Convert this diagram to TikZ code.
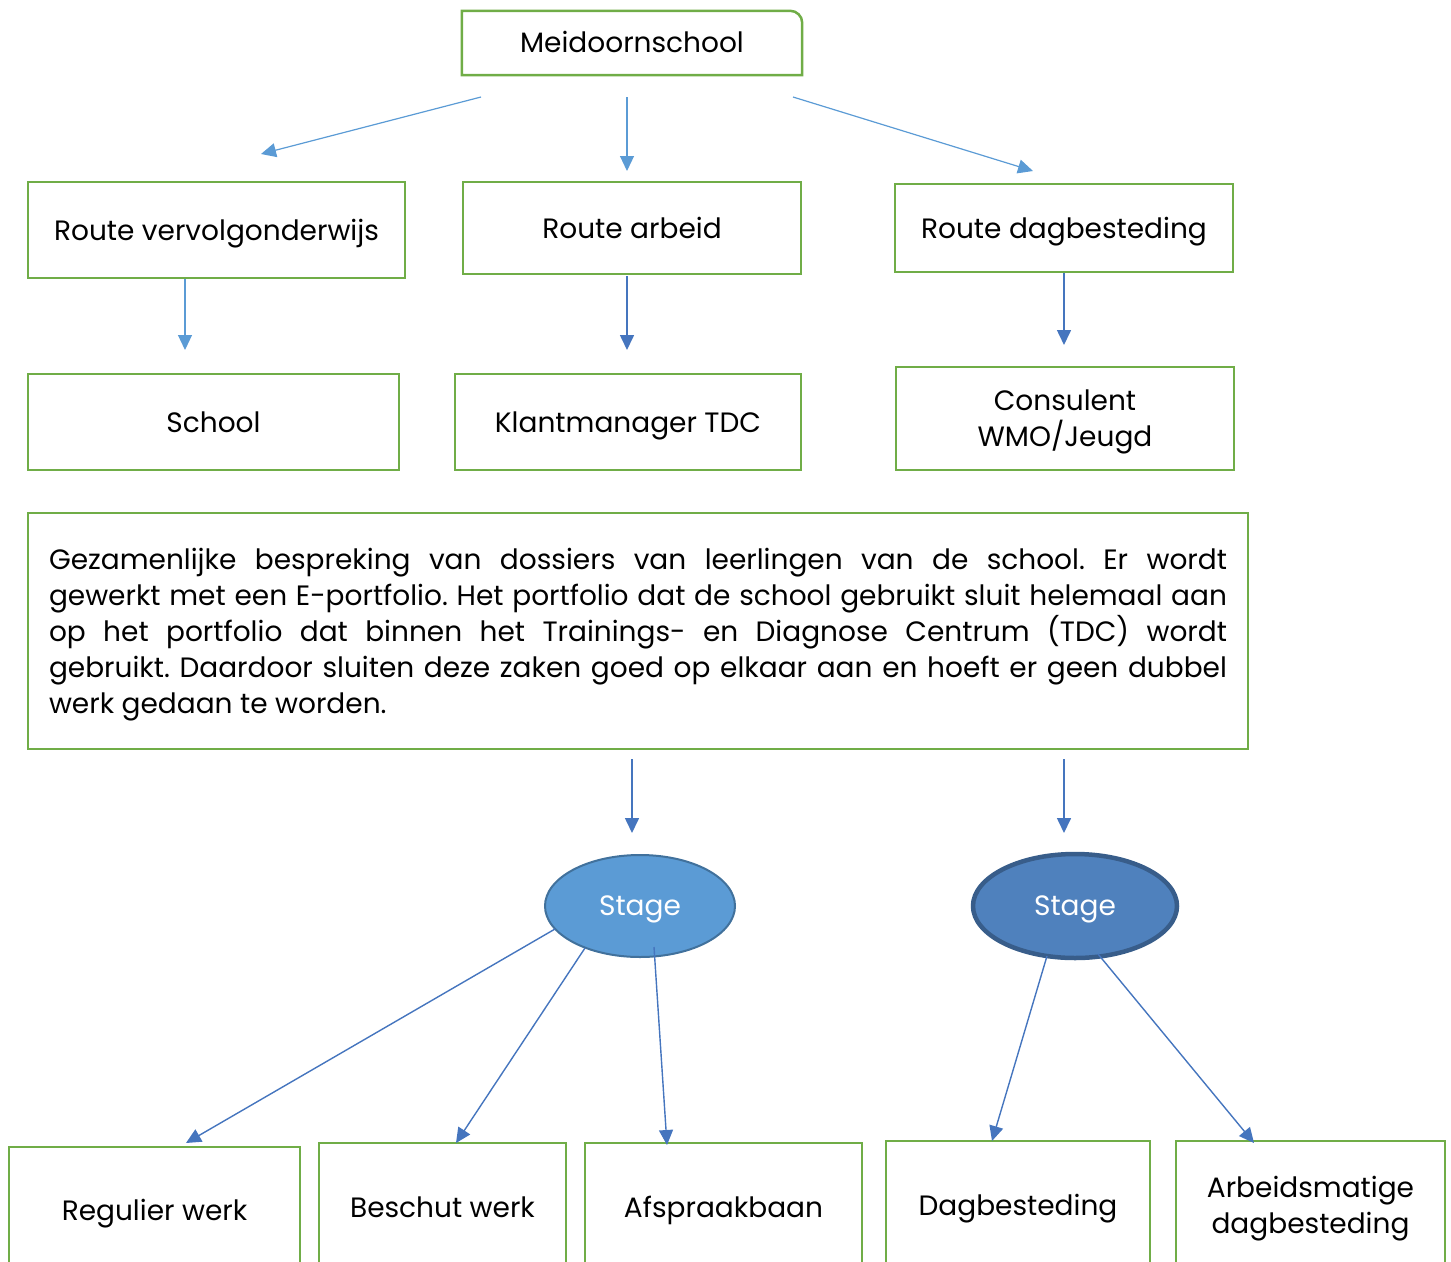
\documentclass[tikz,border=0pt]{standalone}
\usepackage{fontspec}
\setmainfont{Poppins}
\usetikzlibrary{arrows.meta,shapes.geometric}
\definecolor{boxgreen}{HTML}{70AD47}
\definecolor{lightarrow}{HTML}{5B9BD5}
\definecolor{darkarrow}{HTML}{4575BE}
\definecolor{stageone}{HTML}{5B9BD5}
\definecolor{stageoneline}{HTML}{41719C}
\definecolor{stagetwo}{HTML}{4F81BD}
\definecolor{stagetwoline}{HTML}{385D8A}
\tikzset{
  gbox/.style={rectangle, draw=boxgreen, line width=2.5pt, inner sep=0pt, align=center,
    text depth=0pt, font=\fontsize{28}{36}\selectfont},
  lightarr/.style={draw=lightarrow, line width=1.2pt, -{Triangle[length=15pt,width=14pt]}},
  darkarr/.style={draw=darkarrow, line width=1.6pt, -{Triangle[length=15pt,width=14pt]}},
  stagenode/.style={ellipse, inner sep=0pt, text=white, text depth=0pt, font=\fontsize{28}{30}\selectfont},
}
\newcommand{\jline}[1]{\makebox[1178pt][s]{#1}}
\frenchspacing
\begin{document}
\begin{tikzpicture}[x=1pt,y=-1pt]
\useasboundingbox (0,0) rectangle (1451,1261);
\clip (0,0) rectangle (1451,1261);

% top box with one rounded corner
\node[inner sep=0pt, minimum width=340pt, minimum height=64pt, font=\fontsize{28}{36}\selectfont] (meid) at (632,42) {Meidoornschool};
\draw[boxgreen, line width=2.5pt] ([yshift=-1pt]meid.south west) -- ([yshift=-1pt]meid.north west) -- ([xshift=-12pt,yshift=-1pt]meid.north east)
  arc[start angle=90, end angle=0, radius=12pt] -- ([yshift=-1pt]meid.south east) -- cycle;

\node[gbox, minimum width=377pt, minimum height=96pt] (rvo) at (216.5,230) {Route vervolgonderwijs};
\node[gbox, minimum width=338pt, minimum height=92pt] (rarb) at (632,228) {Route arbeid};
\node[gbox, minimum width=338pt, minimum height=88pt] (rdag) at (1064,228) {Route dagbesteding};

\node[gbox, minimum width=371pt, minimum height=96pt] (school) at (213.5,422) {School};
\node[gbox, minimum width=346pt, minimum height=96pt] (klant) at (628,422) {Klantmanager TDC};
\node[gbox, minimum width=338pt, minimum height=103pt] (cons) at (1065,418.5) {Consulent\\WMO/Jeugd};

\node[gbox, minimum width=1220pt, minimum height=236pt, align=left, text depth=-3pt] (big) at (638,631) {%
\jline{Gezamenlijke bespreking van dossiers van leerlingen van de school. Er wordt}\\
\jline{gewerkt met een E-portfolio. Het portfolio dat de school gebruikt sluit helemaal aan}\\
\jline{op het portfolio dat binnen het Trainings- en Diagnose Centrum (TDC) wordt}\\
\jline{gebruikt. Daardoor sluiten deze zaken goed op elkaar aan en hoeft er geen dubbel}\\
\makebox[1178pt][l]{werk gedaan te worden.}};

\node[stagenode, fill=stageone, draw=stageoneline, line width=2pt, minimum width=190pt, minimum height=102pt] (st1) at (640,906) {Stage};
\node[stagenode, fill=stagetwo, draw=stagetwoline, line width=4.5pt, minimum width=204pt, minimum height=104pt] (st2) at (1075,906) {Stage};

\node[gbox, minimum width=291pt, minimum height=126pt] (reg) at (154.5,1210) {Regulier werk};
\node[gbox, minimum width=247pt, minimum height=128pt] (besch) at (442.5,1207) {Beschut werk};
\node[gbox, minimum width=277pt, minimum height=128pt] (afs) at (723.5,1207) {Afspraakbaan};
\node[gbox, minimum width=264pt, minimum height=128pt] (dagb) at (1018,1205) {Dagbesteding};
\node[gbox, minimum width=269pt, minimum height=128pt] (arbd) at (1310.5,1205) {Arbeidsmatige\\dagbesteding};

% connector end points
\coordinate (a1s) at (481,97);  \coordinate (a1e) at (261,154);
\coordinate (a2s) at (627,97);  \coordinate (a2e) at (627,171);
\coordinate (a3s) at (793,97);  \coordinate (a3e) at (1033,171);
\coordinate (b1s) at (185,279); \coordinate (b1e) at (185,350);
\coordinate (b2s) at (627,276); \coordinate (b2e) at (627,350);
\coordinate (b3e) at (1064,345);
\coordinate (c1s) at (632,759); \coordinate (c1e) at (632,833);
\coordinate (c2s) at (1064,759); \coordinate (c2e) at (1064,833);
\coordinate (d1s) at (555,929); \coordinate (d1e) at (186,1143);
\coordinate (d2s) at (585,948); \coordinate (d2e) at (456,1143);
\coordinate (d3s) at (654,947); \coordinate (d3e) at (667,1145);
\coordinate (e1s) at (1047,956); \coordinate (e1e) at (992,1141);
\coordinate (e2s) at (1098,954); \coordinate (e2e) at (1254,1143);

\draw[lightarr] (a1s) -- (a1e);
\draw[lightarr] (a2s) -- (a2e);
\draw[lightarr] (a3s) -- (a3e);
\draw[lightarr] (b1s) -- (b1e);
\draw[darkarr] (b2s) -- (b2e);
\draw[darkarr] (rdag.south) -- (b3e);
\draw[darkarr] (c1s) -- (c1e);
\draw[darkarr] (c2s) -- (c2e);
\draw[darkarr, line width=1.4pt] (d1s) -- (d1e);
\draw[darkarr, line width=1.4pt] (d2s) -- (d2e);
\draw[darkarr, line width=1.4pt] (d3s) -- (d3e);
\draw[darkarr, line width=1.4pt] (e1s) -- (e1e);
\draw[darkarr, line width=1.4pt] (e2s) -- (e2e);
\end{tikzpicture}
\end{document}
